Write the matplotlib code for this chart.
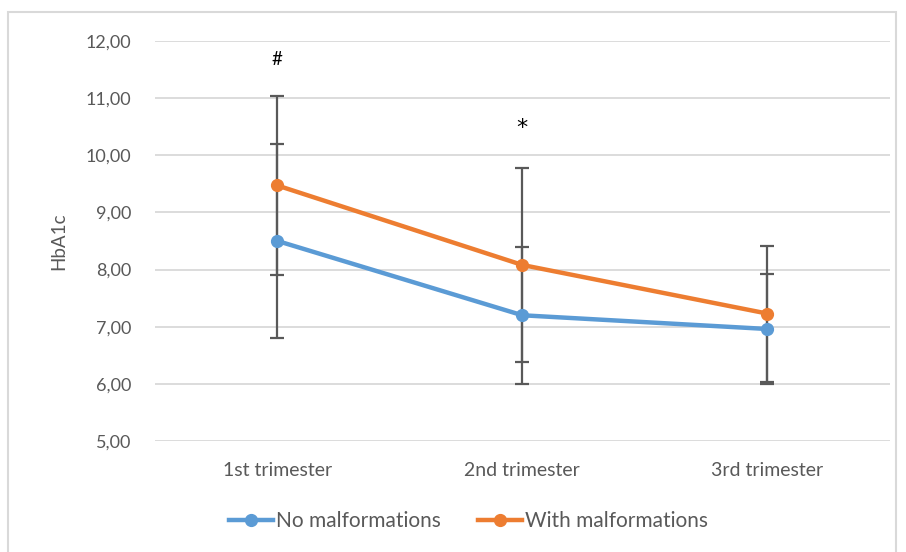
import matplotlib.pyplot as plt
from matplotlib.patches import Rectangle
from matplotlib.ticker import FuncFormatter

plt.rcParams['font.family'] = ['Lato', 'DejaVu Sans']

categories = ['1st trimester', '2nd trimester', '3rd trimester']
no_malf = [8.50, 7.20, 6.96]
no_malf_err = [1.70, 1.20, 0.96]
with_malf = [9.47, 8.08, 7.23]
with_malf_err = [1.57, 1.69, 1.19]
marks = ['#', '*', '']
mark_y = [11.67, 10.47, None]

blue = '#5B9BD5'
orange = '#ED7D31'
grey = '#595959'

fig = plt.figure(figsize=(9.06, 5.52), dpi=100)
ax = fig.add_axes([0.171, 0.201, 0.811, 0.725])

x = list(range(len(categories)))
ax.errorbar(x, no_malf, yerr=no_malf_err, fmt='none', ecolor=grey,
            elinewidth=1.6, capsize=5, capthick=1.6, zorder=2)
ax.errorbar(x, with_malf, yerr=with_malf_err, fmt='none', ecolor=grey,
            elinewidth=1.6, capsize=5, capthick=1.6, zorder=2)
ax.plot(x, no_malf, color=blue, lw=3.2, marker='o', ms=8.5,
        label='No malformations', zorder=3)
ax.plot(x, with_malf, color=orange, lw=3.2, marker='o', ms=8.5,
        label='With malformations', zorder=3)

for xi, m, my in zip(x, marks, mark_y):
    if m == '*':
        ax.text(xi, my, m, ha='center', va='center', fontsize=16,
                family='DejaVu Sans', color='black')
    elif m:
        ax.text(xi, my, m, ha='center', va='center', fontsize=13.5, color='black')

ax.set_xlim(-0.5, 2.5)
ax.set_ylim(5, 12)
ax.set_yticks(range(5, 13))
ax.yaxis.set_major_formatter(FuncFormatter(lambda v, p: f'{v:.2f}'.replace('.', ',')))
ax.set_xticks(x)
ax.set_xticklabels(categories)
ax.tick_params(axis='both', length=0, colors=grey)
ax.tick_params(axis='x', pad=15, labelsize=14)
ax.tick_params(axis='y', pad=17, labelsize=13)
ax.grid(axis='y', color='#D9D9D9', lw=1.3)
ax.set_axisbelow(True)
for s in ax.spines.values():
    s.set_visible(False)
ax.set_ylabel('HbA1c', fontsize=13.5, color=grey, labelpad=13)

fig.legend(loc='center', bbox_to_anchor=(0.517, 0.056), ncol=2, frameon=False,
           fontsize=15, handlelength=2.1, columnspacing=1.8, handletextpad=0.15,
           labelcolor=grey)

fig.patches.append(Rectangle((8 / 906, -0.1), 888 / 906, 1.1 - 12 / 552,
                             transform=fig.transFigure, fill=False,
                             edgecolor='#D9D9D9', lw=1.5))

fig.savefig('out.png', dpi=100)
